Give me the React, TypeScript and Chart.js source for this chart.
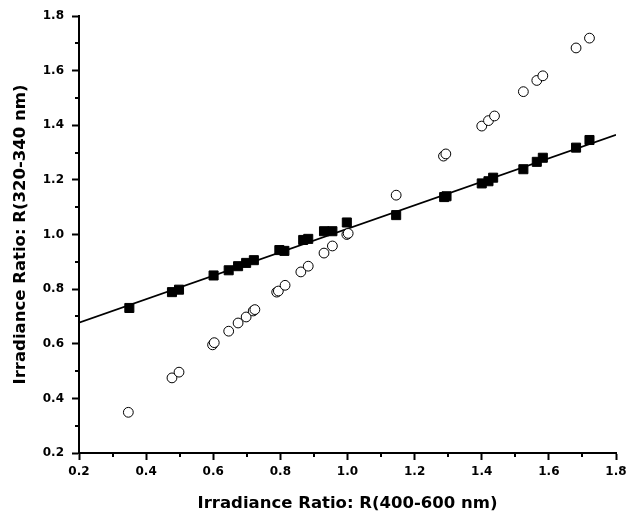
import React, { useEffect, useRef } from "react";
import { Chart, registerables } from "chart.js";

Chart.register(...registerables);

// Filled squares: R(320-340 nm) vs R(400-600 nm)
const squareX = [0.35, 0.477, 0.498, 0.601, 0.646, 0.674, 0.698, 0.721, 0.797, 0.812, 0.868, 0.883, 0.930, 0.955, 0.998, 1.145, 1.288, 1.295, 1.400, 1.420, 1.434, 1.524, 1.564, 1.582, 1.681, 1.721];
const squareY = [0.731, 0.789, 0.798, 0.850, 0.869, 0.884, 0.896, 0.906, 0.943, 0.940, 0.980, 0.984, 1.012, 1.012, 1.044, 1.071, 1.137, 1.140, 1.187, 1.195, 1.208, 1.239, 1.266, 1.281, 1.318, 1.346];

// Open circles
const circleX = [0.347, 0.477, 0.498, 0.598, 0.603, 0.646, 0.674, 0.698, 0.719, 0.724, 0.789, 0.794, 0.814, 0.861, 0.883, 0.930, 0.955, 0.998, 1.002, 1.145, 1.286, 1.293, 1.400, 1.420, 1.438, 1.524, 1.564, 1.582, 1.681, 1.721];
const circleY = [0.349, 0.475, 0.496, 0.596, 0.604, 0.646, 0.676, 0.698, 0.720, 0.725, 0.789, 0.793, 0.814, 0.863, 0.884, 0.932, 0.958, 1.000, 1.004, 1.144, 1.287, 1.295, 1.397, 1.417, 1.434, 1.523, 1.564, 1.581, 1.683, 1.719];

// Fitted line end points
const fitX = [0.2, 1.8];
const fitY = [0.677, 1.365];

const axisMin = 0.2;
const axisMax = 1.8;
const majorStep = 0.2;
const minorTicks = [0.3, 0.5, 0.7, 0.9, 1.1, 1.3, 1.5, 1.7];

const xTitle = "Irradiance Ratio: R(400-600 nm)";
const yTitle = "Irradiance Ratio: R(320-340 nm)";

const FONT = "'DejaVu Sans', 'Liberation Sans', Arial, sans-serif";

// Fit line, drawn under the markers through the chart's own scales, clipped to the plot area
const fitLinePlugin = {
  id: "fitLine",
  beforeDatasetsDraw(chart: any) {
    const ctx = chart.ctx;
    const xs = chart.scales.x;
    const ys = chart.scales.y;
    const a = chart.chartArea;
    ctx.save();
    ctx.beginPath();
    ctx.rect(a.left, a.top, a.right - a.left, a.bottom - a.top);
    ctx.clip();
    ctx.strokeStyle = "#000";
    ctx.lineWidth = 1.6;
    ctx.beginPath();
    fitX.forEach((x, i) => {
      const px = xs.getPixelForValue(x);
      const py = ys.getPixelForValue(fitY[i]);
      if (i === 0) ctx.moveTo(px, py);
      else ctx.lineTo(px, py);
    });
    ctx.stroke();
    ctx.restore();
  },
};

const minorTickPlugin = {
  id: "minorTicks",
  afterDraw(chart: any) {
    const ctx = chart.ctx;
    const xs = chart.scales.x;
    const ys = chart.scales.y;
    ctx.save();
    ctx.strokeStyle = "#000";
    ctx.lineWidth = 2;
    for (const v of minorTicks) {
      const px = Math.round(xs.getPixelForValue(v));
      ctx.beginPath();
      ctx.moveTo(px, xs.top);
      ctx.lineTo(px, xs.top + 4);
      ctx.stroke();
      const py = Math.round(ys.getPixelForValue(v));
      ctx.beginPath();
      ctx.moveTo(ys.right, py);
      ctx.lineTo(ys.right - 4, py);
      ctx.stroke();
    }
    ctx.restore();
  },
};

export default function App() {
  const ref = useRef<HTMLCanvasElement | null>(null);

  useEffect(() => {
    if (!ref.current) return;
    const chart = new Chart(ref.current, {
      type: "scatter",
      data: {
        datasets: [
          {
            label: "circles",
            data: circleX.map((x, i) => ({ x, y: circleY[i] })),
            pointStyle: "circle",
            pointRadius: 4.9,
            pointBorderWidth: 1,
            pointBackgroundColor: "#fff",
            pointBorderColor: "#000",
          },
          {
            label: "squares",
            data: squareX.map((x, i) => ({ x, y: squareY[i] })),
            pointStyle: "rect",
            pointRadius: 6.4,
            pointBorderWidth: 1,
            pointBackgroundColor: "#000",
            pointBorderColor: "#000",
          },
        ],
      },
      options: {
        animation: false,
        responsive: true,
        maintainAspectRatio: false,
        layout: { padding: { left: 0, right: 11, top: 16, bottom: 0 } },
        plugins: { legend: { display: false }, tooltip: { enabled: false } },
        scales: {
          x: {
            type: "linear",
            min: axisMin,
            max: axisMax,
            border: { display: true, color: "#000", width: 2 },
            grid: { drawOnChartArea: false, drawTicks: true, tickLength: 7, tickWidth: 2, tickColor: "#000" },
            ticks: {
              stepSize: majorStep,
              color: "#000",
              padding: 5,
              maxRotation: 0,
              autoSkip: false,
              font: { family: FONT, weight: "bold", size: 12 },
              callback: (v: any) => Number(v).toFixed(1),
            },
            title: {
              display: true,
              text: xTitle,
              color: "#000",
              font: { family: FONT, weight: "bold", size: 16.5 },
              padding: { top: 0, bottom: 0 },
            },
            afterFit: (s: any) => {
              s.height = 61;
              s.paddingLeft = 0;
              s.paddingRight = 0;
            },
          },
          y: {
            type: "linear",
            min: axisMin,
            max: axisMax,
            border: { display: true, color: "#000", width: 2 },
            grid: { drawOnChartArea: false, drawTicks: true, tickLength: 7, tickWidth: 2, tickColor: "#000" },
            ticks: {
              stepSize: majorStep,
              color: "#000",
              padding: 8,
              autoSkip: false,
              font: { family: FONT, weight: "bold", size: 12 },
              callback: (v: any) => Number(v).toFixed(1),
            },
            title: {
              display: true,
              text: yTitle,
              color: "#000",
              font: { family: FONT, weight: "bold", size: 16.5 },
              padding: { top: 11, bottom: 0 },
            },
            afterFit: (s: any) => {
              s.width = 79;
              s.paddingTop = 0;
              s.paddingBottom = 0;
            },
          },
        },
      } as any,
      plugins: [fitLinePlugin, minorTickPlugin],
    });
    return () => chart.destroy();
  }, []);

  return (
    <div style={{ position: "absolute", left: 0, top: 0, width: 627, height: 514, background: "#fff" }}>
      <canvas ref={ref} />
    </div>
  );
}
